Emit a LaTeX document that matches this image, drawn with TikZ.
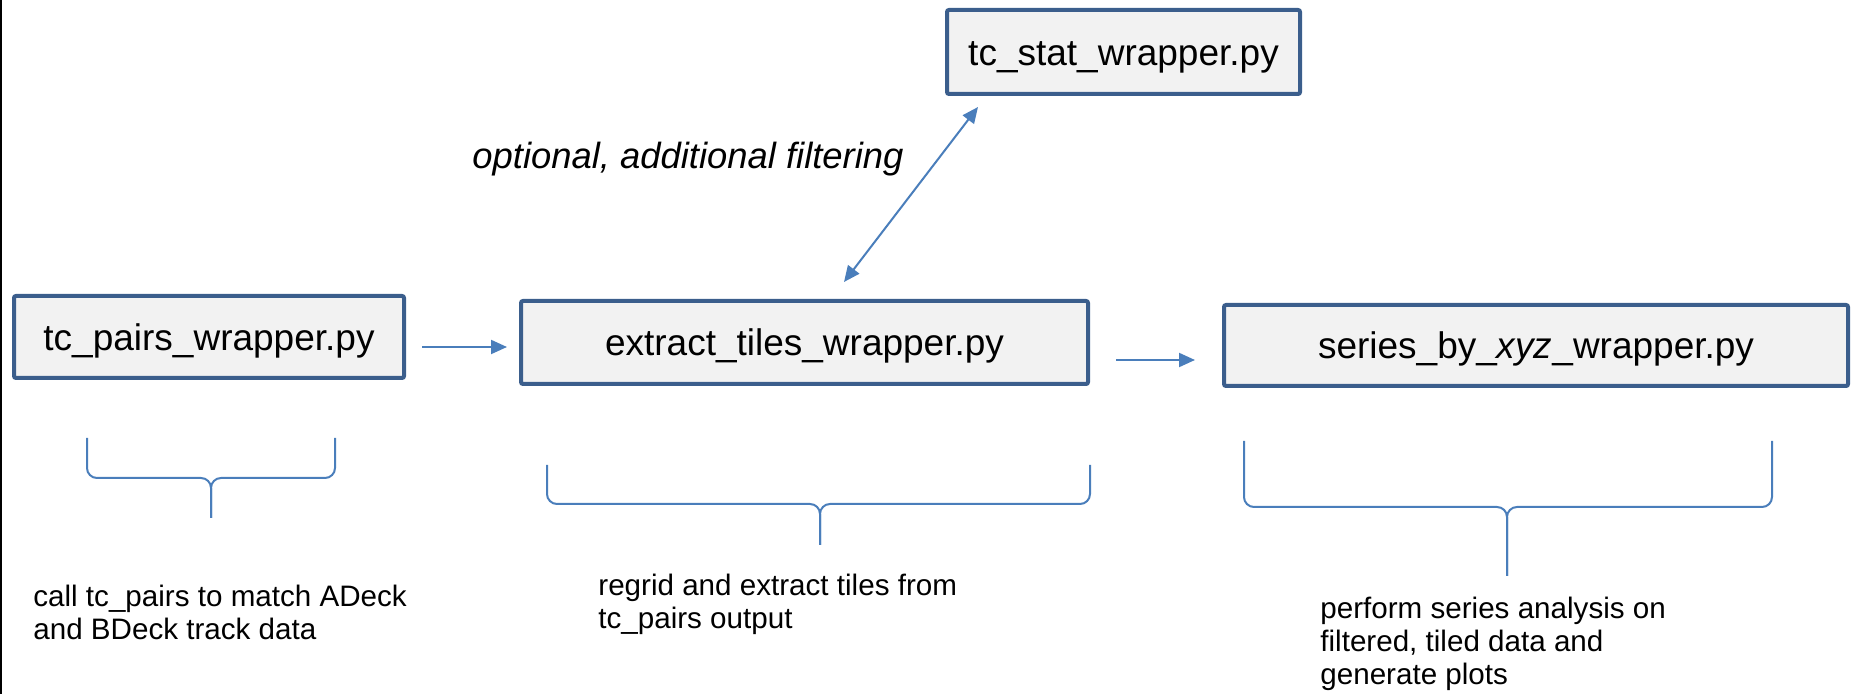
\documentclass[tikz,border=0pt]{standalone}
\usepackage{fontspec}
\setmainfont{Liberation Sans}
\usetikzlibrary{arrows.meta}
\definecolor{BoxBorder}{HTML}{3B5E8C}
\definecolor{BoxFill}{HTML}{F2F2F2}
\definecolor{LineBlue}{HTML}{4A7EBB}
\tikzset{
  BoxStyle/.style = { rectangle, draw = BoxBorder, fill = BoxFill,
                      line width = 2pt, rounded corners = 1pt, inner sep = 0pt,
                      font = \fontsize{18.5}{22}\selectfont,
                      text height = 15.2pt, text depth = 1.85pt },
  ArrowStyle/.style = { ->, LineBlue, line width = 1pt },
  BraceStyle/.style = { LineBlue, line width = 1pt, rounded corners = 5pt },
  NoteStyle/.style = { align = left, inner sep = 0pt, anchor = north west,
                       font = \fontsize{14.8}{16.5}\selectfont },
  LabelStyle/.style = { inner sep = 0pt, font = \fontsize{18.2}{22}\selectfont\itshape } }

\begin{document}
\begin{tikzpicture}[x=0.5pt, y=-0.5pt, >={Triangle[length=8pt,width=7pt]}]
  \useasboundingbox (0,0) rectangle (1858,694);
  \fill (0,0) rectangle (2,694);

  % the four wrapper scripts
  \node[BoxStyle, minimum width=195pt, minimum height=41pt] (pairs) at (209,337) {tc\_pairs\_wrapper.py};
  \node[BoxStyle, minimum width=283.5pt, minimum height=41.5pt] (tiles) at (804.5,342.5) {extract\_tiles\_wrapper.py};
  \node[BoxStyle, minimum width=312pt, minimum height=40.5pt] (series) at (1536,345.5) {series\_by\_\textit{xyz}\_wrapper.py};
  \node[BoxStyle, minimum width=176.5pt, minimum height=42pt] (stat) at (1123.5,52) {tc\_stat\_wrapper.py};

  \node[LabelStyle] (filterlbl) at (688,159) {optional, additional filtering};

  % flow
  \coordinate (a1) at ([yshift=-5pt]pairs.east);
  \draw[ArrowStyle, shorten <=8pt, shorten >=6pt] (a1) -- (a1 -| tiles.west);
  \coordinate (a2) at ([yshift=-8.75pt]tiles.east);
  \draw[ArrowStyle, shorten <=13pt, shorten >=13.5pt] (a2) -- (a2 -| series.west);
  \draw[ArrowStyle, <->] ([shift={(33,11)}]stat.south west) -- ([shift={(39.5,-17)}]tiles.north);

  % braces
  \draw[BraceStyle] (87,438) -- (87,478) -- (211,478) -- (211,518);
  \draw[BraceStyle] (335,438) -- (335,478) -- (211,478) -- (211,518);
  \draw[BraceStyle] (547,465) -- (547,504) -- (820,504) -- (820,545);
  \draw[BraceStyle] (1090,465) -- (1090,504) -- (820,504) -- (820,545);
  \draw[BraceStyle] (1244,441) -- (1244,507) -- (1507,507) -- (1507,576);
  \draw[BraceStyle] (1772,441) -- (1772,507) -- (1507,507) -- (1507,576);

  \node[NoteStyle] (pairsnote) at (33,585) {call tc\_pairs to match ADeck\\and BDeck track data};
  \node[NoteStyle] (tilesnote) at (598,574) {regrid and extract tiles from\\tc\_pairs output};
  \node[NoteStyle] (seriesnote) at (1320,597) {perform series analysis on\\filtered, tiled data and\\generate plots};
\end{tikzpicture}
\end{document}
